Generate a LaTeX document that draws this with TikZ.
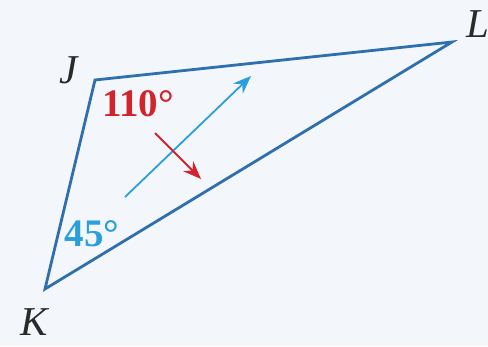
\documentclass[tikz,border=0pt]{standalone}
\usepackage{fontspec}
\setmainfont{Liberation Serif}
\usetikzlibrary{arrows.meta}
\definecolor{bg}{HTML}{F3F7FB}
\definecolor{triblue}{HTML}{2F6FAE}
\definecolor{arrblue}{HTML}{2A9FDC}
\definecolor{angred}{HTML}{D3242E}
\definecolor{lbl}{HTML}{2A2A2A}
\tikzset{
  vlabel/.style={font=\fontsize{41}{41}\selectfont\itshape, text=lbl, inner sep=0pt},
  anglabel/.style={font=\fontsize{39}{39}\selectfont\bfseries, inner sep=0pt},
  side/.style={draw=triblue, line width=2.8pt, line join=miter},
  thinarrow/.style={line width=1.8pt, -{Stealth[length=18pt,width=14pt]}}
}
\begin{document}
\begin{tikzpicture}[x=1pt,y=-1pt]
\fill[bg] (0,0) rectangle (488,346);
\useasboundingbox (0,0) rectangle (488,346);
\coordinate (J) at (95,80);
\coordinate (L) at (452,42);
\coordinate (K) at (45,289);
\draw[side] (J) -- (L) -- (K) -- cycle;
\node[vlabel] (jl) at (69,70) {J};
\node[vlabel, anchor=west] (ll) at (466,24) {L};
\node[vlabel] (kl) at (34,322) {K};
\node[anglabel, text=angred] (a110) at (138,104) {110°};
\node[anglabel, text=arrblue] (a45) at (92,234) {45°};
\coordinate (bt) at (125,197);
\coordinate (bh) at (251,76);
\draw[thinarrow, draw=arrblue, fill=arrblue] (bt) -- (bh);
\coordinate (rt) at (155,133);
\coordinate (rh) at (201,179);
\draw[thinarrow, draw=angred, fill=angred] (rt) -- (rh);
\end{tikzpicture}
\end{document}
